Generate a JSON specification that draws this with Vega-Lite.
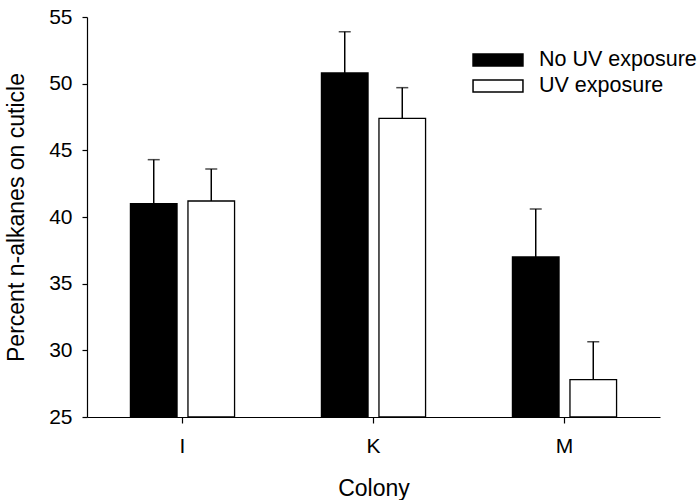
{
  "$schema": "https://vega.github.io/schema/vega-lite/v6.json",
  "width": 573,
  "height": 400,
  "autosize": "none",
  "padding": {"left": 87, "top": 17, "right": 39, "bottom": 83},
  "background": "white",
  "config": {
    "view": {"stroke": null},
    "font": "Liberation Sans",
    "axis": {"grid": false, "domainColor": "black", "tickColor": "black", "labelColor": "black", "titleColor": "black", "titleFontWeight": "normal", "domainWidth": 1.2, "tickWidth": 1.2}
  },
  "data": {
    "values": [
      {"colony": "I", "group": "No UV exposure", "mean": 41.0, "upper": 44.3},
      {"colony": "I", "group": "UV exposure", "mean": 41.2, "upper": 43.6},
      {"colony": "K", "group": "No UV exposure", "mean": 50.8, "upper": 53.9},
      {"colony": "K", "group": "UV exposure", "mean": 47.4, "upper": 49.7},
      {"colony": "M", "group": "No UV exposure", "mean": 37.0, "upper": 40.6},
      {"colony": "M", "group": "UV exposure", "mean": 27.8, "upper": 30.65}
    ]
  },
  "encoding": {
    "x": {
      "field": "colony", "type": "nominal",
      "scale": {"paddingInner": 0, "paddingOuter": 0},
      "axis": {"title": "Colony", "labelAngle": 0, "labelFontSize": 21, "titleFontSize": 23, "tickSize": 6, "labelPadding": 12, "titlePadding": 21}
    },
    "xOffset": {
      "field": "group", "type": "nominal",
      "scale": {"paddingInner": 0.19, "paddingOuter": 0.755}
    }
  },
  "layer": [
    {
      "mark": {"type": "rule", "color": "black", "strokeWidth": 1.5},
      "encoding": {
        "y": {"field": "mean", "type": "quantitative"},
        "y2": {"field": "upper"}
      }
    },
    {
      "mark": {"type": "tick", "color": "black", "size": 12, "thickness": 1.5, "orient": "horizontal"},
      "encoding": {
        "y": {"field": "upper", "type": "quantitative"}
      }
    },
    {
      "mark": {"type": "bar", "stroke": "black", "strokeWidth": 1.3},
      "encoding": {
        "y": {
          "field": "mean", "type": "quantitative",
          "scale": {"domain": [25, 55], "zero": false, "nice": false},
          "axis": {"title": "Percent n-alkanes on cuticle", "values": [25, 30, 35, 40, 45, 50, 55], "labelFontSize": 21, "titleFontSize": 23, "tickSize": 5, "labelPadding": 10, "titlePadding": 20}
        },
        "y2": {"datum": 25},
        "fill": {
          "field": "group", "type": "nominal",
          "scale": {"domain": ["No UV exposure", "UV exposure"], "range": ["black", "white"]},
          "legend": {
            "title": null, "orient": "none", "legendX": 398, "legendY": 30,
            "symbolType": "M-2.08,-0.5H2.08V0.5H-2.08Z", "symbolSize": 576,
            "symbolStrokeColor": "black", "symbolStrokeWidth": 1.5,
            "labelFontSize": 21.5, "labelColor": "black", "labelOffset": 28, "rowPadding": 2
          }
        }
      }
    }
  ]
}
